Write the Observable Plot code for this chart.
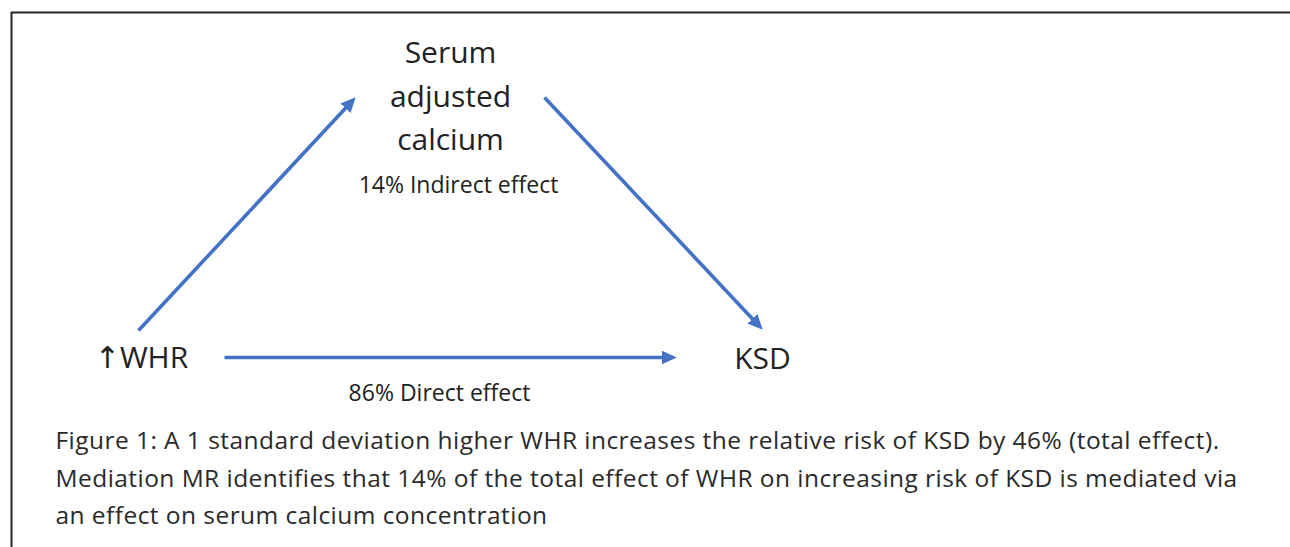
<!DOCTYPE html>
<html><head><meta charset="utf-8">
<script src="https://cdn.jsdelivr.net/npm/d3@7"></script>
<script src="https://cdn.jsdelivr.net/npm/@observablehq/plot@0.6"></script>
<style>html,body{margin:0;padding:0;background:#fff;overflow:hidden;}</style>
</head><body><div id="chart"></div>
<script>
// Diagram nodes (layout units)
const nodeNames = ["Serum\nadjusted\ncalcium", "↑WHR", "KSD"];
const nodeX = [450, 141, 762];
const nodeY = [32, 337, 338];

// Effect labels
const effectLabels = ["14% Indirect effect", "86% Direct effect"];
const effectX = [458, 439];
const effectY = [176, 384];

// Edges: from -> to (start point and arrow tip)
const edgeFrom = ["↑WHR", "Serum adjusted calcium", "↑WHR"];
const edgeTo = ["Serum adjusted calcium", "KSD", "KSD"];
const edgeX1 = [138, 544, 224];
const edgeY1 = [330, 97, 357];
const edgeX2 = [355, 762, 676];
const edgeY2 = [97, 329, 357];

// Caption
const captionLines = [
  "Figure 1: A 1 standard deviation higher WHR increases the relative risk of KSD by 46% (total effect).",
  "Mediation MR identifies that 14% of the total effect of WHR on increasing risk of KSD is mediated via",
  "an effect on serum calcium concentration"
];
const captionX = [55];
const captionY = [422];

const nodes = nodeNames.map((t, i) => ({t, x: nodeX[i], y: nodeY[i]}));
const effects = effectLabels.map((t, i) => ({t, x: effectX[i], y: effectY[i]}));
const edges = edgeFrom.map((f, i) => ({from: f, to: edgeTo[i], x1: edgeX1[i], y1: edgeY1[i], x2: edgeX2[i], y2: edgeY2[i]}));
const caption = [{t: captionLines.join("\n"), x: captionX[0], y: captionY[0]}];

const BLUE = "#4472C4";
const INK = "#222222";
const TIP = 4.2;
function pullBack(d, k) {
  const dx = d.x2 - d.x1, dy = d.y2 - d.y1, L = Math.hypot(dx, dy);
  return k === "x" ? d.x2 - TIP * dx / L : d.y2 - TIP * dy / L;
}
function filledHead(color) {
  const m = d3.create("svg:marker")
    .attr("viewBox", "0 -5 10 10")
    .attr("markerUnits", "userSpaceOnUse")
    .attr("markerWidth", 15)
    .attr("markerHeight", 15)
    .attr("refX", 7)
    .attr("refY", 0)
    .attr("orient", "auto")
    .attr("fill", color)
    .attr("stroke", "none");
  m.append("path").attr("d", "M0,-4.6L10,0L0,4.6Z");
  return m.node();
}

const chart = Plot.plot({
  width: 1290, height: 547,
  marginTop: 12, marginLeft: 11, marginRight: 0, marginBottom: 0,
  x: {domain: [11, 1290], axis: null},
  y: {domain: [12, 547], reverse: true, axis: null},
  style: {fontFamily: "'Open Sans', 'DejaVu Sans', sans-serif", background: "#fff", overflow: "visible"},
  marks: [
    Plot.ruleX([11], {stroke: INK, strokeWidth: 2}),
    Plot.ruleY([12], {stroke: INK, strokeWidth: 2}),
    Plot.link(edges, {
      x1: "x1", y1: "y1",
      x2: d => pullBack(d, "x"), y2: d => pullBack(d, "y"),
      stroke: BLUE, strokeWidth: 3.6, markerEnd: filledHead
    }),
    Plot.text(nodes, {x: "x", y: "y", text: "t", fontSize: 30, lineAnchor: "top", lineHeight: 1.45, fill: INK}),
    Plot.text(effects, {x: "x", y: "y", text: "t", fontSize: 23, lineAnchor: "top", fill: INK}),
    Plot.text(caption, {x: "x", y: "y", text: "t", fontSize: 24.5, lineAnchor: "top", lineHeight: 1.53, textAnchor: "start", fill: "#2a2a2a"})
  ]
});
// slight tracking for the caption to match the original's wider typeface
d3.select(chart).selectAll("text").filter(function () {
  return this.textContent.startsWith("Figure 1");
}).style("letter-spacing", "0.45px");
document.getElementById("chart").appendChild(chart);
</script>
</body></html>
